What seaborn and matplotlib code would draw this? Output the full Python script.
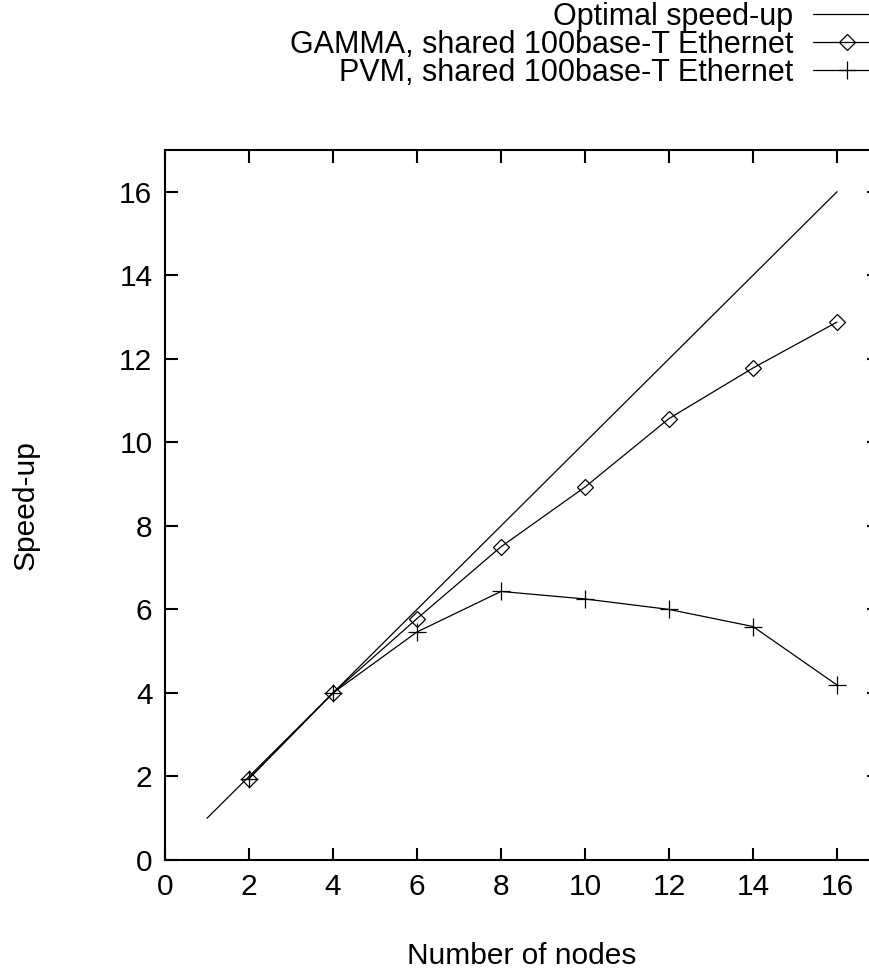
import numpy as np
import pandas as pd
import matplotlib
matplotlib.use("Agg")
import matplotlib.pyplot as plt
import seaborn as sns

# values
nodes = [2, 4, 6, 8, 10, 12, 14, 16]
gamma = [1.95, 4.0, 5.78, 7.50, 8.93, 10.57, 11.78, 12.88]
pvm = [1.95, 4.0, 5.46, 6.43, 6.25, 6.00, 5.59, 4.19]
optimal_x = [1, 16]
optimal_y = [1, 16]

sns.set_style("ticks")
plt.rcParams['font.family'] = ['Liberation Sans', 'DejaVu Sans']
plt.rcParams['text.color'] = 'black'
plt.rcParams['xtick.color'] = 'black'
plt.rcParams['ytick.color'] = 'black'
plt.rcParams['axes.labelcolor'] = 'black'

df = pd.DataFrame({"nodes": nodes, "GAMMA": gamma, "PVM": pvm})

fig = plt.figure(figsize=(8.7, 9.71), dpi=100)
ax = fig.add_axes([165 / 870, 1 - 860 / 971, (879 - 165) / 870, (860 - 150) / 971])

sns.lineplot(x=optimal_x, y=optimal_y, ax=ax, color="black", linewidth=0.9,
             label="Optimal speed-up")
sns.lineplot(data=df, x="nodes", y="GAMMA", ax=ax, color="black", linewidth=0.9,
             marker="D", markersize=8, markerfacecolor="none",
             markeredgecolor="black", markeredgewidth=0.9,
             label="GAMMA, shared 100base-T Ethernet")
sns.lineplot(data=df, x="nodes", y="PVM", ax=ax, color="black", linewidth=0.9,
             marker="+", markersize=13, markeredgecolor="black",
             markeredgewidth=0.9, label="PVM, shared 100base-T Ethernet")

ax.set_xlim(0, 17)
ax.set_ylim(0, 17)
ax.set_xticks(range(0, 17, 2))
ax.set_yticks(range(0, 17, 2))
ax.tick_params(direction="in", length=9, width=1.5, top=True, right=True,
               labelsize=21.5, pad=9)
for s in ax.spines.values():
    s.set_linewidth(1.5)
    s.set_color("black")

ax.set_xlabel("Number of nodes", fontsize=21.5, labelpad=30)
ax.set_ylabel("Speed-up", fontsize=21.5, labelpad=57)

leg = ax.legend(loc="upper right", bbox_to_anchor=(1.012, 0.998),
                bbox_transform=fig.transFigure, frameon=False, markerfirst=False,
                fontsize=22, handlelength=2.2, handletextpad=0.65,
                labelspacing=-0.07, borderaxespad=0.0, borderpad=0.0)

fig.savefig("out.png", dpi=100)
